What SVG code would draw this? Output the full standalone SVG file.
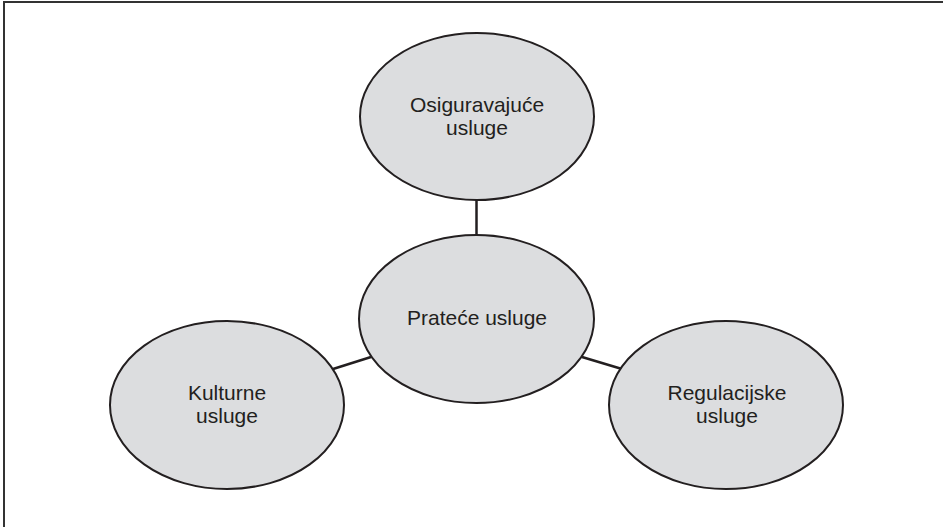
<svg xmlns="http://www.w3.org/2000/svg" width="943" height="527" viewBox="0 0 943 527">
<style>
.node ellipse{fill:#dcdddf;stroke:#231f20;stroke-width:2}
.node text{font-family:"Liberation Sans",Arial,sans-serif;font-size:21px;fill:#231f20;text-anchor:middle}
.conn line{stroke:#231f20;stroke-width:2.5}
.frame{stroke:#333;stroke-width:2;fill:none}
</style>
<rect width="943" height="527" fill="#fff"/>
<path class="frame" d="M4,527 V2 H943"/>
<g class="conn" id="connectors">
<line x1="476.5" y1="200" x2="476.5" y2="236"/>
<line x1="371" y1="357" x2="333" y2="369"/>
<line x1="582" y1="357" x2="622" y2="369"/>
</g>
<g class="node" id="osiguravajuce">
<ellipse cx="477" cy="116.5" rx="117" ry="83.5"/>
<text x="477" y="112">Osiguravajuće</text>
<text x="477" y="135">usluge</text>
</g>
<g class="node" id="pratece">
<ellipse cx="476.5" cy="319" rx="117.5" ry="84"/>
<text x="477" y="325">Prateće usluge</text>
</g>
<g class="node" id="kulturne">
<ellipse cx="227" cy="405" rx="117" ry="84"/>
<text x="227" y="400">Kulturne</text>
<text x="227" y="423">usluge</text>
</g>
<g class="node" id="regulacijske">
<ellipse cx="726" cy="405" rx="117" ry="84"/>
<text x="727" y="400">Regulacijske</text>
<text x="727" y="423">usluge</text>
</g>
</svg>
